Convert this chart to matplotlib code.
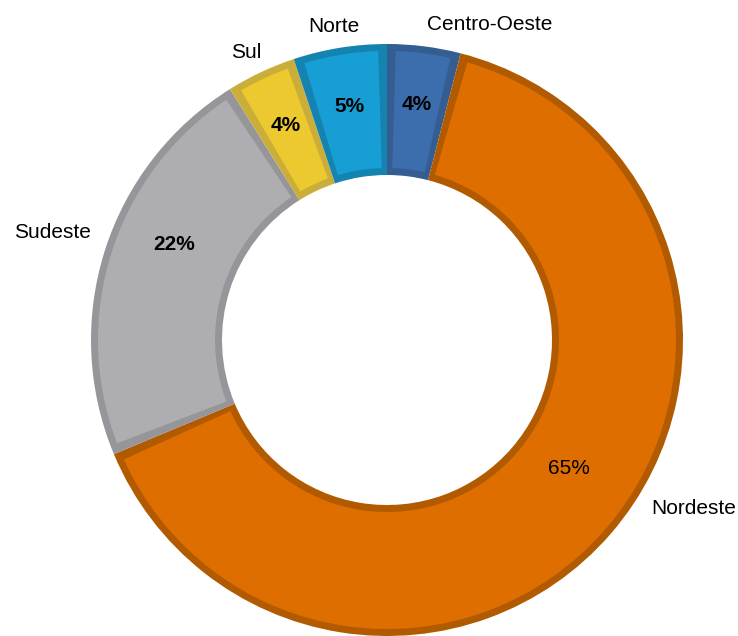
import numpy as np
import matplotlib.pyplot as plt

plt.rcParams['font.family'] = ['Liberation Sans', 'DejaVu Sans']

regions = ['Centro-Oeste', 'Nordeste', 'Sudeste', 'Sul', 'Norte']
shares = [4.0, 64.7, 22.4, 3.8, 5.1]
colors = ['#3C6EAD', '#DE6E00', '#AEADB2', '#ECC92F', '#179ED5']
bevel = ['#345E91', '#B25A00', '#96959A', '#CBAE3A', '#1583AF']

# where the region names sit (pixel coords, y up)
name_pos = [(490, 612), (694, 128), (52, 403), (246, 584), (334, 609)]

W, H = 738, 636
cx, cy = 387, 296
R, width, d = 296, 131, 7

fig = plt.figure(figsize=(W / 100, H / 100), dpi=100)
ax = fig.add_axes([0, 0, 1, 1])

# darker full ring gives the bevelled edge
outer, _ = ax.pie(shares, colors=bevel, startangle=90, counterclock=False,
                  radius=R, center=(cx, cy),
                  wedgeprops=dict(width=width, linewidth=0))

# main faces, inset a few pixels
faces, _, pcts = ax.pie(shares, colors=colors, startangle=90, counterclock=False,
                        radius=R - d, center=(cx, cy),
                        wedgeprops=dict(width=width - 2 * d, linewidth=0),
                        autopct='%.0f%%', pctdistance=0.82,
                        textprops=dict(fontsize=15, fontweight='bold', color='black'))

da = np.degrees(d / (R - width / 2))
for w in faces:
    w.set_theta1(w.theta1 + da)
    w.set_theta2(w.theta2 - da)

# Excel-style placement of the two big slices' values
pcts[1].set_fontweight('normal')
pcts[1].set_position((569, 168))
pcts[2].set_position((174, 392))

for name, (x, y) in zip(regions, name_pos):
    ax.text(x, y, name, fontsize=15, ha='center', va='center', color='black')

ax.set_xlim(0, W)
ax.set_ylim(0, H)
ax.set_aspect('equal')
ax.axis('off')

fig.savefig('out.png', dpi=100, facecolor='white')
